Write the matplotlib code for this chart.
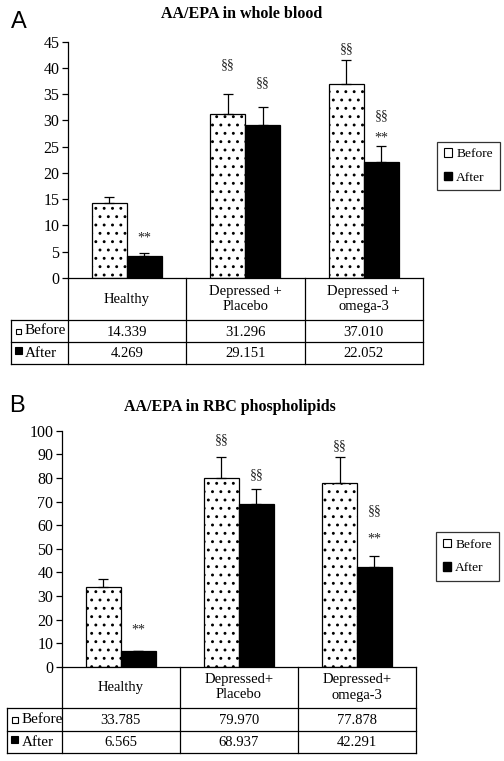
import matplotlib
matplotlib.use("Agg")
import matplotlib.pyplot as plt
from matplotlib.patches import Rectangle, Patch
from matplotlib.lines import Line2D
import numpy as np

# ---------------- data ----------------
categories_a = ["Healthy", "Depressed +\nPlacebo", "Depressed +\nomega-3"]
categories_b = ["Healthy", "Depressed+\nPlacebo", "Depressed+\nomega-3"]
series_names = ["Before", "After"]

before_a = [14.339, 31.296, 37.010]
after_a = [4.269, 29.151, 22.052]
before_a_err = [1.0, 3.8, 4.6]
after_a_err = [0.45, 3.35, 3.0]

before_b = [33.785, 79.970, 77.878]
after_b = [6.565, 68.937, 42.291]
before_b_err = [3.3, 8.7, 10.8]
after_b_err = [0.0, 6.6, 4.5]

yticks_a = [0, 5, 10, 15, 20, 25, 30, 35, 40, 45]
yticks_b = [0, 10, 20, 30, 40, 50, 60, 70, 80, 90, 100]

# annotations: (category index, series index, text, y value)
notes_a = [(0, 1, "**", 7.6), (1, 0, "§§", 40.6), (1, 1, "§§", 37.1),
           (2, 0, "§§", 43.7), (2, 1, "§§", 30.9), (2, 1, "**", 26.6)]
notes_b = [(0, 1, "**", 15.8), (1, 0, "§§", 96.1), (1, 1, "§§", 81.5),
           (2, 0, "§§", 93.5), (2, 1, "§§", 66.1), (2, 1, "**", 54.0)]

# ---------------- style ----------------
W, H = 504, 761
plt.rcParams["hatch.linewidth"] = 0.9
SERIF = ["Liberation Serif", "DejaVu Serif"]
SANS = ["Liberation Sans", "DejaVu Sans"]
FS = 10.5
BW = 0.295
HATCH = ".."

fig = plt.figure(figsize=(W / 100, H / 100), dpi=100)


def fx(px):
    return px / W


def fy(py):
    return 1 - py / H


def hline(x0, x1, y):
    fig.add_artist(Line2D([fx(x0), fx(x1)], [fy(y), fy(y)], color="black", lw=0.9,
                          transform=fig.transFigure))


def vline(x, y0, y1):
    fig.add_artist(Line2D([fx(x), fx(x)], [fy(y0), fy(y1)], color="black", lw=0.9,
                          transform=fig.transFigure))


def panel(letter, title, cats, before, after, berr, aerr, yticks, notes,
          left, right, top, bottom, rows, tab_left, title_y, title_x, letter_xy,
          legend_box, key_sizes):
    ax = fig.add_axes([fx(left), fy(bottom), fx(right) - fx(left), fy(top) - fy(bottom)])
    x = np.arange(len(cats))
    ax.bar(x - BW / 2, before, BW, color="white", edgecolor="black", hatch=HATCH,
           linewidth=0.9, zorder=2)
    ax.bar(x + BW / 2, after, BW, color="black", edgecolor="black", linewidth=0.9, zorder=2)
    ax.errorbar(x - BW / 2, before, yerr=[np.zeros(len(before)), berr], fmt="none",
                ecolor="black", elinewidth=0.9, capsize=3.5, capthick=0.9, zorder=3)
    ax.errorbar(x + BW / 2, after, yerr=[np.zeros(len(after)), aerr], fmt="none",
                ecolor="black", elinewidth=0.9, capsize=3.5, capthick=0.9, zorder=3)
    for ci, si, txt, yv in notes:
        xx = ci + (-BW / 2 if si == 0 else BW / 2)
        ax.text(xx, yv, txt, ha="center", va="center", fontsize=FS - 0.5,
                family=SERIF, color="#222222")
    ax.set_xlim(-0.5, len(cats) - 0.5)
    ax.set_ylim(yticks[0], yticks[-1])
    ax.set_yticks(yticks)
    ax.set_yticklabels([str(t) for t in yticks], family=SERIF, fontsize=FS + 1)
    ax.set_xticks([])
    for s in ["top", "right", "bottom"]:
        ax.spines[s].set_visible(False)
    ax.spines["left"].set_linewidth(0.9)
    ax.tick_params(axis="y", direction="out", length=4, width=0.9, pad=2)

    # table
    y0, y1, y2, y3 = rows
    colw = (right - left) / len(cats)
    hline(left, right, y0)
    for yy in (y1, y2, y3):
        hline(tab_left, right, yy)
    for i in range(len(cats) + 1):
        vline(left + i * colw, y0, y3)
    vline(tab_left, y1, y3)
    for i, c in enumerate(cats):
        cx = left + (i + 0.5) * colw
        fig.text(fx(cx), fy((y0 + y1) / 2), c, ha="center", va="center",
                 family=SERIF, fontsize=FS, linespacing=1.2)
        fig.text(fx(cx), fy((y1 + y2) / 2 + 1), "%.3f" % before[i], ha="center",
                 va="center", family=SERIF, fontsize=FS)
        fig.text(fx(cx), fy((y2 + y3) / 2 + 1), "%.3f" % after[i], ha="center",
                 va="center", family=SERIF, fontsize=FS)
    # row labels with keys
    kb, ka = key_sizes
    kx = tab_left + 5
    cyb = (y1 + y2) / 2
    fig.add_artist(Rectangle((fx(kx), fy(cyb + kb / 2)), fx(kb), kb / H,
                             facecolor="white", edgecolor="black", lw=0.8,
                             transform=fig.transFigure))
    fig.text(fx(kx + kb + 4), fy(cyb), series_names[0], ha="left", va="center",
             family=SERIF, fontsize=FS + 0.5)
    cya = (y2 + y3) / 2
    fig.add_artist(Rectangle((fx(kx - 1), fy(cya + 1)), fx(ka), ka / H,
                             facecolor="black", edgecolor="black", lw=0.8,
                             transform=fig.transFigure))
    fig.text(fx(kx + kb + 4), fy(cya + 1), series_names[1], ha="left", va="center",
             family=SERIF, fontsize=FS + 0.5)

    # legend
    lx0, ly0, lx1, ly1 = legend_box
    handles = [Patch(facecolor="white", edgecolor="black", lw=0.8),
               Patch(facecolor="black", edgecolor="black")]
    leg = fig.legend(handles, series_names, loc="center",
                     bbox_to_anchor=(fx((lx0 + lx1) / 2), fy((ly0 + ly1) / 2)),
                     frameon=True, fancybox=False, edgecolor="black",
                     prop={"family": SERIF, "size": FS - 0.8}, handlelength=0.6,
                     handleheight=0.6, handletextpad=0.3, borderpad=0.5,
                     labelspacing=0.85, borderaxespad=0)
    leg.get_frame().set_linewidth(0.9)

    fig.text(fx(title_x), fy(title_y), title, ha="center", va="center",
             family=SERIF, fontsize=FS + 1, fontweight="bold")
    fig.text(fx(letter_xy[0]), fy(letter_xy[1]), letter, ha="left", va="center",
             family=SANS, fontsize=17)
    return ax


panel("A", "AA/EPA in whole blood", categories_a, before_a, after_a,
      before_a_err, after_a_err, yticks_a, notes_a,
      left=67.7, right=423, top=41.7, bottom=278, rows=(278, 320, 342, 364),
      tab_left=11, title_y=13.5, title_x=242, letter_xy=(11, 22),
      legend_box=(439, 144, 498, 188), key_sizes=(5, 7))

panel("B", "AA/EPA in RBC phospholipids", categories_b, before_b, after_b,
      before_b_err, after_b_err, yticks_b, notes_b,
      left=61.7, right=416, top=430.7, bottom=667, rows=(667, 708, 731, 753),
      tab_left=7, title_y=407, title_x=230, letter_xy=(9, 406),
      legend_box=(438, 535, 497, 578), key_sizes=(6, 7))

fig.savefig("out.png", dpi=100, facecolor="white")
